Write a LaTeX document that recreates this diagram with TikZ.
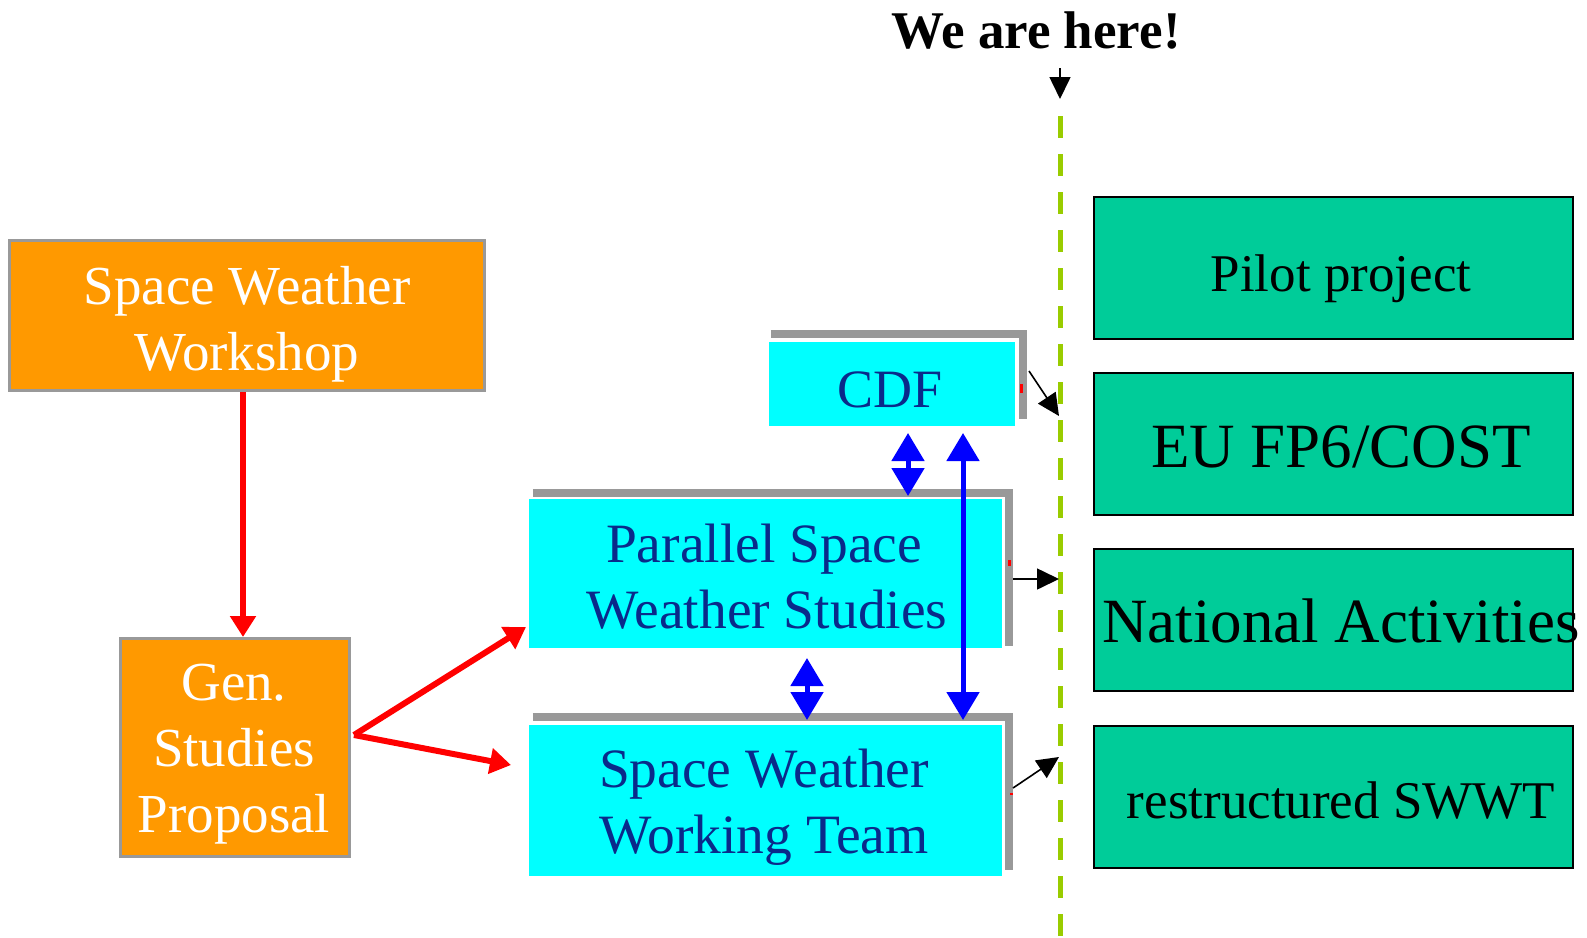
\documentclass[tikz,border=0pt]{standalone}
\usepackage{fontspec}
\setmainfont{Liberation Serif}
\usetikzlibrary{arrows.meta}
\definecolor{orng}{HTML}{FF9900}
\definecolor{cyn}{HTML}{00FFFF}
\definecolor{grn}{HTML}{00CC99}
\definecolor{limeg}{HTML}{99CC00}
\definecolor{navyt}{HTML}{0A2A8A}
\definecolor{frm}{HTML}{999999}
\begin{document}
\begin{tikzpicture}[x=1pt,y=-1pt,
  obox/.style={rectangle, fill=orng, draw=frm, line width=3pt, inner sep=0pt},
  cbox/.style={rectangle, fill=cyn, inner sep=0pt},
  gbox/.style={rectangle, fill=grn, draw=black, line width=2pt, inner sep=0pt, minimum width=479pt, minimum height=142pt},
  wtxt/.style={anchor=base, inner sep=0pt, text=white, font=\fontsize{55}{66}\selectfont},
  btxt/.style={anchor=base, inner sep=0pt, text=navyt, font=\fontsize{55.5}{66}\selectfont},
  ktxt/.style={anchor=base, inner sep=0pt, text=black},
  grayL/.style={draw=frm, line width=8pt},
  redmark/.style={draw=red, line width=3pt},
  redarr/.style={draw=red, line width=6pt, -{Triangle[length=21pt,width=25pt]}},
  bluarr/.style={draw=blue, line width=5pt, {Triangle[length=28pt,width=32pt]}-{Triangle[length=28pt,width=32pt]}},
  blkarr/.style={draw=black, line width=1.6pt, -{Triangle[length=22pt,width=21pt]}},
]
\useasboundingbox (0,0) rectangle (1587,937);

% title and time line
\node[ktxt, font=\bfseries\fontsize{53}{60}\selectfont] (here) at (1036,48) {We are here!};
\coordinate (hereA) at (1060,68);
\coordinate (hereB) at (1060,99);
\draw[blkarr] (hereA) -- (hereB);
\coordinate (dtop) at (1060,116);
\coordinate (dbot) at (1060,937);
\draw[draw=limeg, line width=5pt, dash pattern=on 22pt off 16pt] (dtop) -- (dbot);

% orange boxes
\node[obox, minimum width=475pt, minimum height=150pt] (sww) at (247,315.5) {};
\node[wtxt] (sww1) at (247,304) {Space Weather};
\node[wtxt] (sww2) at (247,370) {Workshop};
\node[obox, minimum width=229pt, minimum height=218pt] (gen) at (235,747.5) {};
\node[wtxt] (gen1) at (234,700) {Gen.};
\node[wtxt] (gen2) at (234,766) {Studies};
\node[wtxt] (gen3) at (234,832) {Proposal};

% cyan boxes with gray frames
\node[cbox, minimum width=246pt, minimum height=84pt] (cdf) at (892,384) {};
\draw[grayL] ([shift={(2pt,8pt)}]cdf.north west) -| ([shift={(8pt,7pt)}]cdf.south east);
\node[btxt, font=\fontsize{54}{66}\selectfont] (cdft) at (890,407) {CDF};
\node[cbox, minimum width=473pt, minimum height=149pt] (par) at (765.5,573.5) {};
\draw[grayL] ([shift={(4pt,6pt)}]par.north west) -| ([shift={(7pt,2pt)}]par.south east);
\node[btxt] (par1) at (764,562) {Parallel Space};
\node[btxt] (par2) at (767,628) {Weather Studies};
\node[cbox, minimum width=473pt, minimum height=151pt] (swwt) at (765.5,800.5) {};
\draw[grayL] ([shift={(4pt,8pt)}]swwt.north west) -| ([shift={(7pt,6pt)}]swwt.south east);
\node[btxt] (swwt1) at (764,787) {Space Weather};
\node[btxt] (swwt2) at (764,853) {Working Team};

% small red marks on the frames
\draw[redmark] (1021,384) -- (1021,393);
\draw[redmark] (1009,560) -- (1009,566);
\draw[redmark] (1011,793) -- (1011,795);

% green boxes
\node[gbox] (pilot) at (1333.5,268) {};
\node[ktxt, font=\fontsize{53}{60}\selectfont] (pilott) at (1341,291) {Pilot project};
\node[gbox] (eu) at (1333.5,444) {};
\node[ktxt, font=\fontsize{63}{70}\selectfont] (eut) at (1341,467) {EU FP6/COST};
\node[gbox] (nat) at (1333.5,620) {};
\node[ktxt, font=\fontsize{63}{70}\selectfont] (natt) at (1341,642) {National Activities};
\node[gbox] (rest) at (1333.5,796.5) {};
\node[ktxt, font=\fontsize{53}{60}\selectfont] (restt) at (1341,818) {restructured SWWT};

% red arrows
\draw[redarr] ([xshift=-4pt]sww.south) -- ([xshift=-4pt]sww.south |- gen.north);
\coordinate (gs) at (354,735);
\coordinate (pt) at (526,627);
\coordinate (st) at (511,765);
\draw[redarr] (gs) -- (pt);
\draw[redarr] (gs) -- (st);

% blue arrows
\coordinate (b1a) at (908,433);
\coordinate (b1b) at (908,496);
\draw[bluarr] (b1a) -- (b1b);
\coordinate (b2a) at (963,433);
\coordinate (b2b) at (963,720);
\draw[bluarr] (b2a) -- (b2b);
\coordinate (b3a) at (807,658);
\coordinate (b3b) at (807,720);
\draw[bluarr] (b3a) -- (b3b);

% black arrows to the time line
\coordinate (k1a) at (1029,371);
\coordinate (k1b) at (1059,416);
\draw[blkarr] (k1a) -- (k1b);
\coordinate (k2a) at (1013,579);
\coordinate (k2b) at (1059,579);
\draw[blkarr] (k2a) -- (k2b);
\coordinate (k3a) at (1013,788);
\coordinate (k3b) at (1059,757);
\draw[blkarr] (k3a) -- (k3b);
\end{tikzpicture}
\end{document}
